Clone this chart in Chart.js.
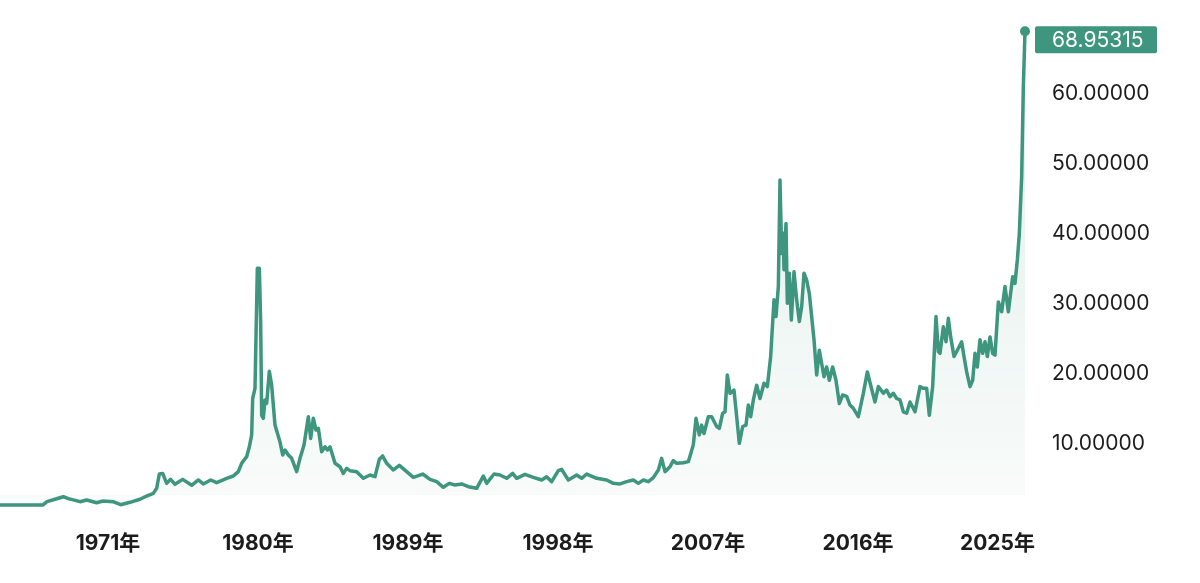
<!DOCTYPE html>
<html>
<head>
<meta charset="utf-8">
<script src="https://cdn.jsdelivr.net/npm/chart.js@4.4.1/dist/chart.umd.min.js"></script>
<style>
  html, body { margin: 0; padding: 0; background: #fff; }
  #wrap { width: 1200px; height: 583px; position: relative; }
</style>
</head>
<body>
<div id="wrap"><canvas id="silverChart"></canvas></div>
<script>
// Silver price history (USD / oz)

// decimal years
const years = [
    1964.52, 1967.10, 1967.34, 1967.82, 1968.32, 1968.62, 1969.32, 1969.72, 1970.32, 1970.70,
    1971.30, 1971.76, 1972.32, 1972.92, 1973.32, 1973.72, 1973.92, 1974.08, 1974.28, 1974.52,
    1974.76, 1975.02, 1975.48, 1976.02, 1976.42, 1976.72, 1977.16, 1977.52, 1978.12, 1978.52,
    1978.82, 1979.02, 1979.32, 1979.48, 1979.62, 1979.68, 1979.82, 1979.96, 1980.08, 1980.16,
    1980.22, 1980.32, 1980.42, 1980.52, 1980.68, 1980.82, 1981.02, 1981.32, 1981.48, 1981.62,
    1981.82, 1982.02, 1982.32, 1982.52, 1982.76, 1983.02, 1983.16, 1983.32, 1983.48, 1983.62,
    1983.82, 1984.02, 1984.16, 1984.32, 1984.62, 1984.92, 1985.12, 1985.32, 1985.52, 1985.92,
    1986.32, 1986.72, 1987.02, 1987.28, 1987.48, 1987.72, 1988.12, 1988.48, 1988.92, 1989.32,
    1989.88, 1990.32, 1990.72, 1991.12, 1991.48, 1991.82, 1992.22, 1992.62, 1993.12, 1993.52,
    1993.72, 1994.16, 1994.52, 1994.92, 1995.28, 1995.52, 1996.02, 1996.52, 1997.02, 1997.32,
    1997.62, 1998.02, 1998.22, 1998.62, 1999.12, 1999.42, 1999.72, 2000.32, 2000.92, 2001.32,
    2001.72, 2002.12, 2002.52, 2002.82, 2003.12, 2003.42, 2003.72, 2004.02, 2004.22, 2004.42,
    2004.72, 2004.92, 2005.12, 2005.52, 2005.82, 2006.12, 2006.28, 2006.48, 2006.62, 2006.76,
    2007.02, 2007.22, 2007.52, 2007.68, 2007.88, 2008.02, 2008.16, 2008.32, 2008.56, 2008.72,
    2008.88, 2009.08, 2009.28, 2009.42, 2009.56, 2009.72, 2009.92, 2010.12, 2010.36, 2010.56,
    2010.76, 2010.96, 2011.08, 2011.22, 2011.32, 2011.42, 2011.52, 2011.56, 2011.68, 2011.76,
    2011.88, 2012.00, 2012.16, 2012.32, 2012.48, 2012.62, 2012.76, 2012.92, 2013.08, 2013.22,
    2013.36, 2013.52, 2013.68, 2013.82, 2013.96, 2014.12, 2014.28, 2014.48, 2014.68, 2014.88,
    2015.08, 2015.32, 2015.52, 2015.72, 2016.02, 2016.32, 2016.56, 2016.76, 2017.02, 2017.22,
    2017.52, 2017.72, 2017.92, 2018.12, 2018.32, 2018.52, 2018.72, 2018.92, 2019.12, 2019.42,
    2019.72, 2019.92, 2020.12, 2020.28, 2020.48, 2020.68, 2020.82, 2020.92, 2021.12, 2021.28,
    2021.42, 2021.56, 2021.76, 2021.96, 2022.22, 2022.36, 2022.52, 2022.72, 2022.88, 2023.02,
    2023.16, 2023.32, 2023.48, 2023.62, 2023.76, 2023.92, 2024.08, 2024.22, 2024.42, 2024.62,
    2024.82, 2025.02, 2025.28, 2025.42, 2025.56, 2025.68, 2025.82, 2025.92, 2026.02
];

const prices = [
    1.29, 1.29, 1.76, 2.10, 2.47, 2.19, 1.76, 2.00, 1.60, 1.86,
    1.76, 1.33, 1.67, 2.10, 2.57, 2.95, 3.67, 5.71, 5.80, 4.38,
    4.95, 4.24, 4.95, 4.10, 4.86, 4.29, 4.86, 4.48, 5.10, 5.43,
    6.05, 7.24, 8.19, 9.60, 11.30, 16.50, 17.95, 35.10, 35.10, 27.50,
    14.10, 13.67, 16.30, 15.80, 20.40, 18.40, 12.70, 10.30, 8.43, 9.14,
    8.43, 7.95, 6.05, 7.95, 9.86, 13.90, 10.80, 13.67, 12.00, 12.24,
    8.90, 9.60, 9.14, 9.60, 7.24, 6.76, 5.80, 6.52, 6.19, 6.05,
    5.10, 5.57, 5.33, 7.81, 8.29, 7.24, 6.29, 6.95, 6.05, 5.24,
    5.71, 4.95, 4.62, 3.81, 4.38, 4.14, 4.29, 3.90, 3.67, 5.43,
    4.38, 5.71, 5.57, 5.10, 5.81, 5.10, 5.67, 5.24, 4.86, 5.33,
    4.62, 6.19, 6.38, 4.86, 5.57, 5.10, 5.71, 5.10, 4.86, 4.38,
    4.29, 4.62, 4.86, 4.38, 4.86, 4.62, 5.19, 6.29, 7.95, 6.05,
    6.76, 7.62, 7.24, 7.33, 7.48, 9.90, 13.67, 11.30, 12.70, 11.50,
    13.90, 13.90, 12.50, 12.24, 14.40, 14.60, 19.86, 17.24, 17.70, 13.90,
    10.10, 12.50, 12.70, 15.57, 13.90, 16.30, 18.40, 16.50, 18.67, 18.20,
    22.50, 30.60, 28.20, 32.50, 47.70, 37.20, 40.10, 34.90, 41.50, 30.10,
    34.40, 27.70, 34.60, 30.60, 27.50, 29.60, 34.40, 33.40, 31.50, 28.20,
    24.90, 19.86, 23.40, 21.50, 19.60, 21.00, 19.10, 21.00, 19.10, 15.80,
    17.00, 16.80, 15.57, 15.10, 13.90, 17.24, 20.30, 18.40, 16.00, 18.20,
    17.24, 17.70, 16.76, 17.24, 16.50, 16.30, 14.60, 14.40, 16.00, 14.60,
    18.20, 17.95, 17.95, 14.10, 18.20, 28.20, 23.20, 22.95, 26.76, 24.60,
    27.95, 25.30, 22.50, 23.40, 24.60, 22.50, 20.30, 18.20, 19.10, 22.95,
    21.00, 24.90, 22.95, 24.60, 22.50, 25.30, 22.95, 22.70, 30.30, 28.90,
    32.50, 28.90, 33.90, 32.95, 36.30, 40.10, 48.20, 61.00, 68.95315
];

const xTickYears = [1971, 1980, 1989, 1998, 2007, 2016, 2025];
const yTickValues = [10, 20, 30, 40, 50, 60];

const LINE_COLOR = '#3d967d';
const LABEL_FONT = 'Inter, "Noto Sans CJK SC", sans-serif';

// gradient under the line, built once the chart area is known
function areaFill(context) {
    const chart = context.chart;
    const area = chart.chartArea;
    if (!area) return 'rgba(61,150,125,0.06)';
    const g = chart.ctx.createLinearGradient(0, area.top, 0, area.bottom);
    g.addColorStop(0, 'rgba(61,150,125,0.16)');
    g.addColorStop(1, 'rgba(61,150,125,0.03)');
    return g;
}

// green tag with the latest price, right of the last point
const lastValueTag = {
    id: 'lastValueTag',
    afterDatasetsDraw(chart) {
        const meta = chart.getDatasetMeta(0);
        const pt = meta.data[meta.data.length - 1];
        if (!pt) return;
        const ctx = chart.ctx;
        const right = chart.chartArea.right;
        const top = pt.y - 5;
        ctx.save();
        ctx.fillStyle = LINE_COLOR;
        ctx.beginPath();
        ctx.roundRect(right + 10, top, 122, 27, 2);
        ctx.fill();
        ctx.fillStyle = '#ffffff';
        ctx.font = '21px ' + LABEL_FONT;
        ctx.textAlign = 'left';
        ctx.textBaseline = 'middle';
        ctx.fillText(prices[prices.length - 1].toFixed(5), right + 27, top + 14);
        ctx.restore();
    }
};

function createSilverChart(canvasId) {
    try {
        const el = document.getElementById(canvasId);
        if (!el) return null;
        const lastIndex = prices.length - 1;

        return new Chart(el, {
            type: 'line',
            data: {
                datasets: [{
                    data: years.map((y, i) => ({ x: y, y: prices[i] })),
                    borderColor: LINE_COLOR,
                    borderWidth: 3.5,
                    borderJoinStyle: 'round',
                    backgroundColor: areaFill,
                    fill: { value: 2.7 },
                    tension: 0,
                    clip: 6,
                    pointRadius: ctx => ctx.dataIndex === lastIndex ? 5 : 0,
                    pointBackgroundColor: LINE_COLOR,
                    pointBorderWidth: 0,
                    pointHoverRadius: 0
                }]
            },
            options: {
                responsive: true,
                maintainAspectRatio: false,
                animation: false,
                layout: {
                    autoPadding: false,
                    padding: { top: 24, left: 0, right: 0, bottom: 0 }
                },
                plugins: {
                    legend: { display: false },
                    tooltip: { enabled: false }
                },
                scales: {
                    x: {
                        type: 'linear',
                        min: years[0],
                        max: years[years.length - 1],
                        grid: { display: false, drawTicks: false },
                        border: { display: false },
                        afterBuildTicks: axis => {
                            axis.ticks = xTickYears.map(v => ({ value: v }));
                        },
                        afterFit: axis => {
                            axis.height = 69;
                            axis.paddingLeft = 0;
                            axis.paddingRight = 0;
                        },
                        ticks: {
                            autoSkip: false,
                            maxRotation: 0,
                            padding: 17,
                            color: '#1c1c1c',
                            font: { family: LABEL_FONT, size: 21, weight: 'bold' },
                            // last label sits a little to the left in the original
                            callback: v => v === 2025 ? v + '年\u2002\u2002' : v + '年'
                        }
                    },
                    y: {
                        position: 'right',
                        min: 0,
                        max: 70,
                        grid: { display: false, drawTicks: false },
                        border: { display: false },
                        afterBuildTicks: axis => {
                            axis.ticks = yTickValues.map(v => ({ value: v }));
                        },
                        afterFit: axis => {
                            axis.width = 175;
                            axis.paddingTop = 0;
                            axis.paddingBottom = 0;
                        },
                        ticks: {
                            crossAlign: 'near',
                            padding: 27,
                            color: '#1c1c1c',
                            font: { family: LABEL_FONT, size: 21 },
                            callback: v => Number(v).toFixed(5)
                        }
                    }
                }
            },
            plugins: [lastValueTag]
        });
    } catch (error) {
        console.error('Error creating silver chart:', error);
        return null;
    }
}

window.silverChart = createSilverChart('silverChart');
</script>
</body>
</html>
